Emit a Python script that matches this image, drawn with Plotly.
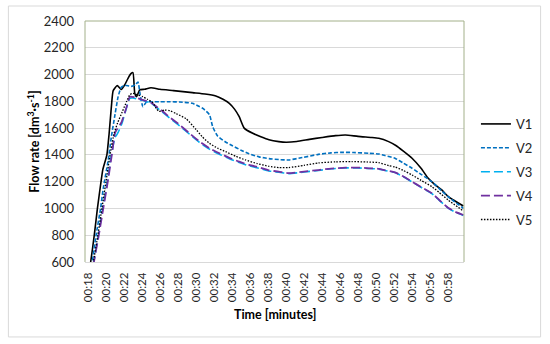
import plotly.graph_objects as go

# ---- data (time in minutes after 00:00, flow rate in dm3/s) ----
tick_minutes = list(range(18, 60, 2))
tick_labels = [f"00:{m:02d}" for m in tick_minutes]

v1_t = [18.0, 18.3, 18.7, 19.05, 19.45, 19.65, 20.1, 20.35, 20.6, 20.8, 21.25, 21.7, 22.1, 22.45, 22.8, 23.0,
        23.2, 23.4, 23.75, 24.3, 25.0, 26.0, 27.5, 29.6, 31.0, 32.2, 33.0, 33.7, 34.3, 34.8, 35.35, 36.3,
        37.2, 38.1, 39.2, 40.0, 41.2, 42.6, 44.0, 45.5, 46.6, 48.0, 49.5, 50.3, 51.4, 52.2, 53.0, 54.0,
        55.0, 55.8, 56.5, 57.3, 58.0, 58.6, 59.7]
v1_q = [480, 600, 800, 1000, 1200, 1290, 1400, 1560, 1760, 1880, 1918, 1888, 1925, 1972, 2008, 2014,
        1860, 1835, 1885, 1890, 1902, 1890, 1880, 1865, 1855, 1840, 1815, 1785, 1740, 1685, 1600, 1561,
        1535, 1513, 1499, 1494, 1500, 1516, 1530, 1544, 1549, 1538, 1530, 1524, 1499, 1470, 1430, 1375,
        1300, 1225, 1180, 1138, 1090, 1063, 1018]

v2_t = [18.2, 18.48, 18.9, 19.4, 19.7, 20.25, 20.6, 21.0, 21.35, 21.7, 22.1, 22.8, 23.3, 23.55, 23.8, 24.1,
        24.5, 25.0, 26.0, 27.1, 28.2, 29.6, 30.4, 30.8, 31.5, 31.85, 32.4, 33.2, 34.05, 35.0, 35.9, 37.0,
        38.1, 39.2, 40.3, 41.8, 43.6, 45.0, 46.2, 47.5, 49.2, 50.3, 51.0, 52.1, 53.0, 54.0, 55.0, 56.2,
        57.0, 58.0, 59.7]
v2_q = [480, 600, 800, 1000, 1150, 1362, 1536, 1700, 1835, 1905, 1920, 1912, 1925, 1945, 1850, 1760,
        1795, 1797, 1797, 1797, 1795, 1785, 1760, 1745, 1700, 1611, 1541, 1500, 1468, 1435, 1408, 1385,
        1372, 1365, 1362, 1380, 1404, 1415, 1419, 1418, 1412, 1407, 1395, 1375, 1340, 1300, 1255, 1200,
        1150, 1088, 1001]

v3_t = [18.35, 18.65, 19.15, 19.65, 20.15, 20.6, 21.0, 21.2, 21.5, 21.8, 22.1, 22.65, 23.0, 23.55, 24.2,
        25.0, 26.1, 27.2, 28.2, 29.3, 30.4, 31.5, 32.6, 33.7, 34.8, 35.9, 37.0, 38.1, 39.2, 40.3, 42.0,
        43.6, 45.0, 46.6, 48.0, 49.2, 50.3, 51.0, 52.1, 53.0, 54.0, 55.0, 56.2, 57.0, 58.0, 58.8, 59.7]
v3_q = [480, 600, 800, 1000, 1200, 1400, 1530, 1549, 1590, 1640, 1710, 1822, 1825, 1815, 1805,
        1785, 1728, 1668, 1616, 1553, 1492, 1443, 1405, 1372, 1343, 1318, 1300, 1280, 1270, 1260, 1272,
        1284, 1296, 1303, 1303, 1298, 1294, 1283, 1268, 1238, 1198, 1158, 1110, 1062, 1003, 972, 948]

v4_t = [18.4, 18.7, 19.2, 19.7, 20.2, 20.65, 21.0, 21.3, 21.7, 22.3, 22.65, 23.2, 23.9, 25.0, 26.1, 27.2,
        28.2, 29.3, 30.4, 31.5, 32.6, 33.7, 34.8, 35.9, 37.0, 38.1, 39.2, 40.3, 42.0, 43.6, 45.0, 46.6,
        48.0, 49.2, 50.3, 51.0, 52.1, 53.0, 54.0, 55.0, 56.2, 57.0, 58.0, 58.8, 59.7]
v4_q = [480, 615, 800, 1000, 1200, 1400, 1561, 1600, 1640, 1760, 1835, 1830, 1815, 1790, 1735, 1675,
        1623, 1560, 1499, 1450, 1412, 1378, 1349, 1325, 1307, 1285, 1275, 1264, 1275, 1287, 1298, 1305,
        1305, 1300, 1296, 1285, 1270, 1240, 1200, 1160, 1113, 1065, 1005, 975, 951]

v5_t = [18.3, 18.6, 19.1, 19.55, 20.0, 20.45, 20.9, 21.3, 21.8, 22.3, 22.65, 23.0, 23.5, 24.1, 24.6, 25.2,
        25.6, 25.9, 26.5, 27.1, 27.8, 28.9, 30.0, 30.7, 31.5, 32.4, 33.3, 34.4, 35.5, 36.8, 38.1, 39.2,
        40.3, 42.0, 43.6, 45.5, 47.3, 49.0, 50.3, 51.4, 52.1, 53.0, 54.0, 55.0, 56.2, 57.0, 58.0, 59.7]
v5_q = [480, 600, 800, 1000, 1200, 1400, 1560, 1640, 1720, 1800, 1850, 1860, 1848, 1835, 1815, 1790,
        1745, 1725, 1735, 1730, 1708, 1670, 1590, 1535, 1486, 1450, 1424, 1390, 1362, 1335, 1315, 1305,
        1305, 1322, 1340, 1348, 1350, 1347, 1342, 1320, 1310, 1285, 1250, 1210, 1163, 1120, 1063, 981]

series = [
    ("V1", v1_t, v1_q, "#000000", "solid", 1.6),
    ("V2", v2_t, v2_q, "#0070C0", "4px,2px", 1.6),
    ("V3", v3_t, v3_q, "#00B0F0", "9px,4px", 1.6),
    ("V4", v4_t, v4_q, "#7030A0", "9px,4px", 1.8),
    ("V5", v5_t, v5_q, "#000000", "1.5px,1.5px", 1.3),
]

fig = go.Figure()
for name, t, q, color, dash, w in series:
    fig.add_trace(go.Scatter(x=t, y=q, name=name, mode="lines", legendgroup=name,
                             line=dict(color=color, dash=dash, width=w, shape="spline", smoothing=0.5)))

FONT = "Lato"
# plot area: x 85..466, y 21..262 (px)
fig.update_layout(
    width=550, height=344,
    margin=dict(l=85, r=84, t=21, b=82),
    paper_bgcolor="white", plot_bgcolor="white",
    font=dict(family=FONT, size=12, color="#262626"),
    showlegend=True,
    legend=dict(x=1.0315, y=0.635, xanchor="left", yanchor="top",
                traceorder="grouped", tracegroupgap=4,
                font=dict(family=FONT, size=13, color="#262626"),
                bgcolor="rgba(0,0,0,0)", itemwidth=30),
    xaxis=dict(range=[17.67, 59.77], tickmode="array", tickvals=tick_minutes, ticktext=tick_labels,
               tickangle=-90, tickfont=dict(family=FONT, size=11.5, color="#262626"),
               showgrid=False, zeroline=False, showline=True, linecolor="#D9D9D9", linewidth=1,
               ticks="", ticklabelstandoff=5),
    yaxis=dict(range=[600, 2400], tickmode="linear", tick0=600, dtick=200,
               tickfont=dict(family=FONT, size=13, color="#262626"),
               showgrid=True, gridcolor="#D9D9D9", gridwidth=1, zeroline=False,
               showline=False, ticks="", ticklabelstandoff=10),
    annotations=[
        dict(text="<b>Time [minutes]</b>", xref="paper", yref="paper", x=0.5, y=-0.216,
             xanchor="center", yanchor="middle", showarrow=False,
             font=dict(family=FONT, size=12.5, color="#000000")),
        dict(text="<b>Flow rate [dm<sup>3</sup>·s<sup>-1</sup>]</b>", xref="paper", yref="paper",
             x=-0.1365, y=0.5, xanchor="center", yanchor="middle", textangle=-90, showarrow=False,
             font=dict(family=FONT, size=12.5, color="#000000")),
    ],
    shapes=[
        dict(type="rect", xref="paper", yref="paper", x0=-0.2021, x1=1.2021, y0=-0.311, y1=1.0622,
             line=dict(color="#D9D9D9", width=1), layer="below"),
        dict(type="line", xref="paper", yref="paper", x0=0, x1=0, y0=0, y1=1,
             line=dict(color="#A3B08A", width=1)),
        dict(type="line", xref="paper", yref="paper", x0=1, x1=1, y0=0, y1=1,
             line=dict(color="#A3B08A", width=1)),
        dict(type="line", xref="paper", yref="paper", x0=0, x1=1, y0=1, y1=1,
             line=dict(color="#A3B08A", width=1)),
    ],
)

fig.write_html("out.html", config={"displayModeBar": False},
               post_script="document.body.style.margin='0';")
